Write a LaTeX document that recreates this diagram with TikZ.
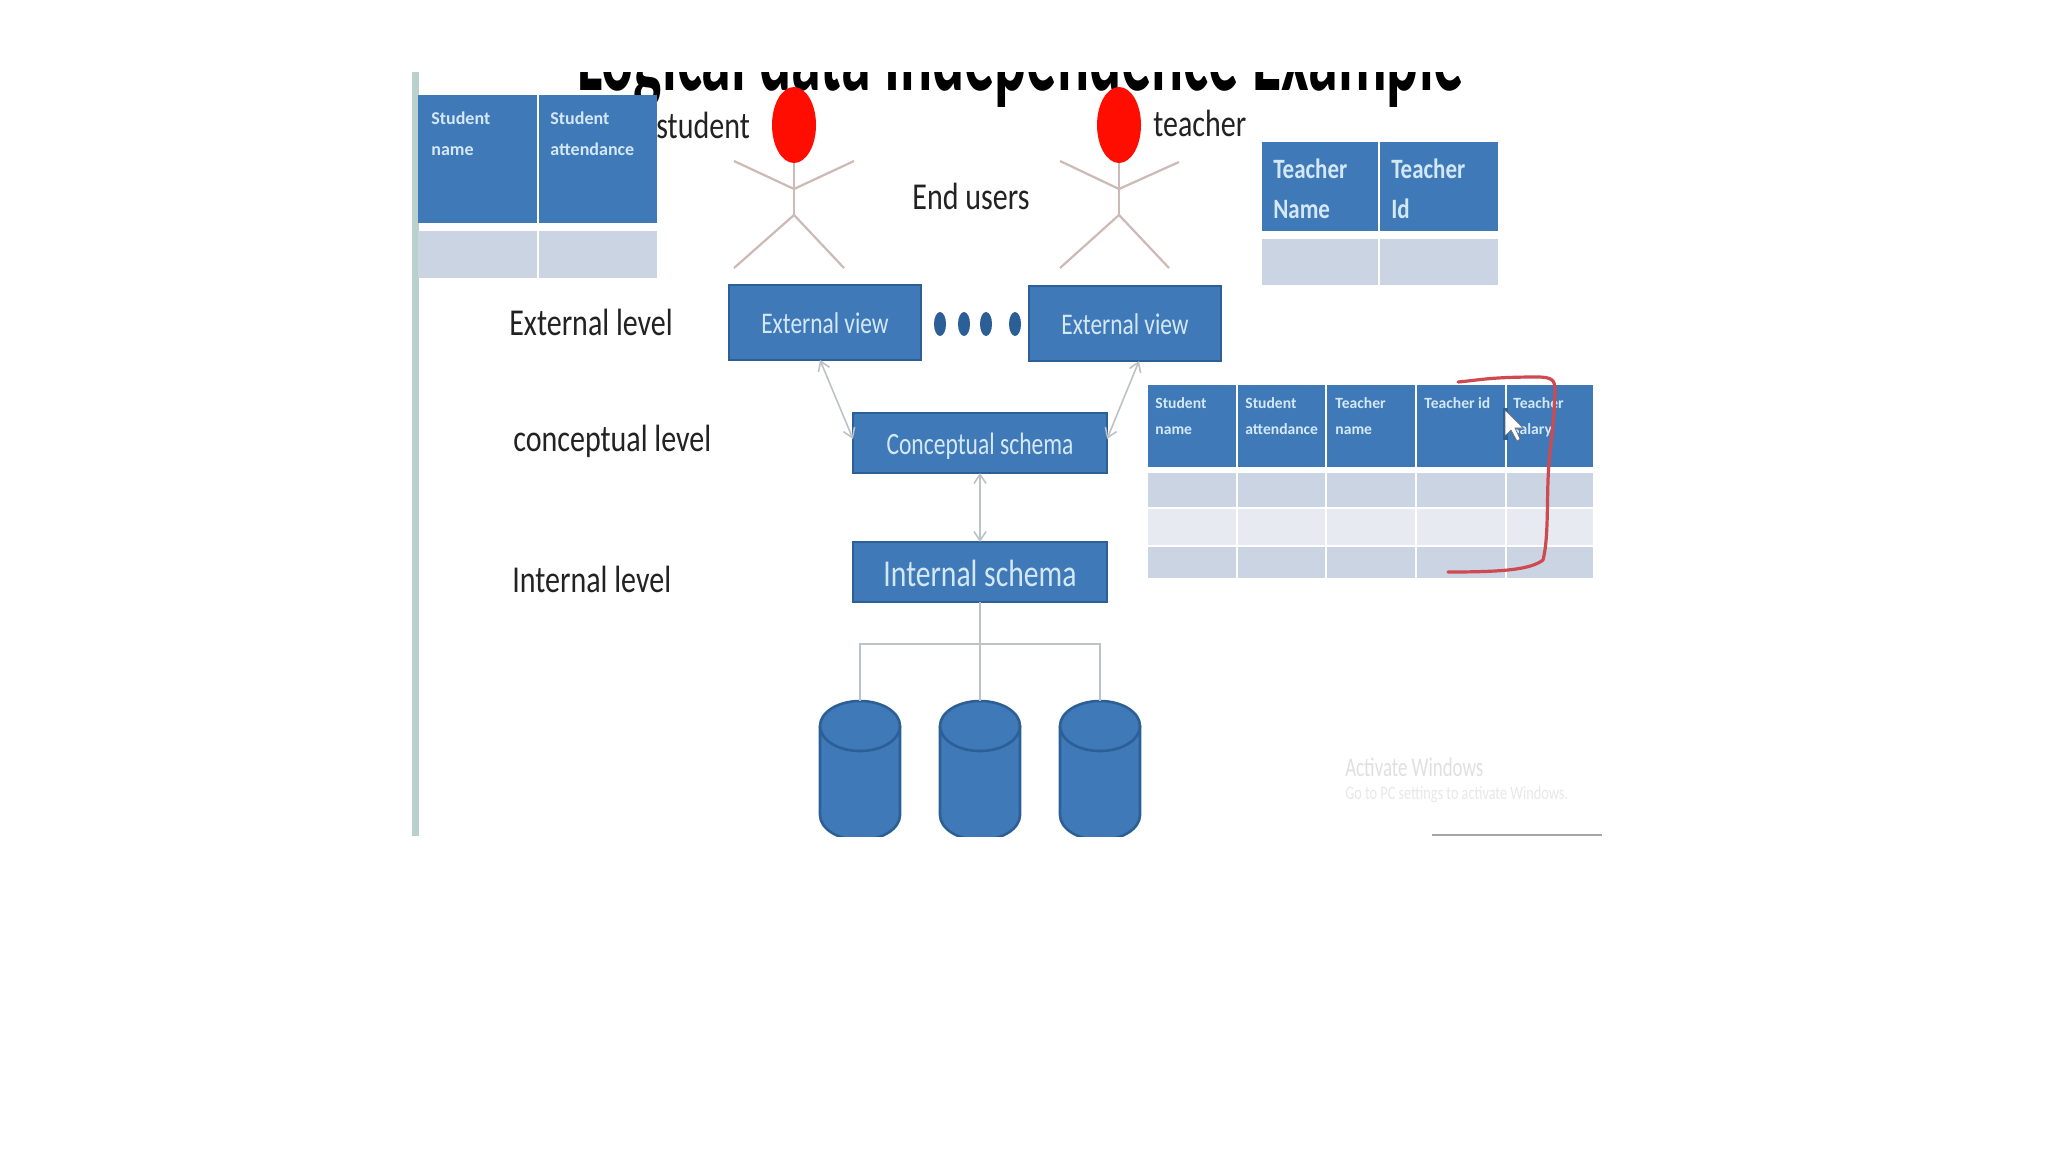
\documentclass[tikz,border=0pt]{standalone}
\usepackage{fontspec}
\setmainfont{Carlito}
\usetikzlibrary{arrows.meta,shapes.geometric}
\definecolor{boxblue}{HTML}{4079B8}
\definecolor{boxedge}{HTML}{2B5F96}
\definecolor{hdrtext}{HTML}{D3E8F6}
\definecolor{rowdark}{HTML}{CBD4E2}
\definecolor{rowlight}{HTML}{E7EAF1}
\definecolor{stick}{HTML}{CDB9B5}
\definecolor{conn}{HTML}{BCC2C6}
\definecolor{inkred}{HTML}{CF4A50}
\definecolor{txt}{HTML}{222222}
\definecolor{slideedge}{HTML}{BAD0CC}
\newcommand{\fsz}[2]{\fontsize{#1}{#2}\selectfont}
% name, x1, y1, x2, y2, style
\newcommand{\mycell}[6]{\node[#6,minimum width={(#4-#2)*0.5pt},minimum height={(#5-#3)*0.5pt}] (#1) at ({(#2+#4)/2},{(#3+#5)/2}) {};}
% name, x, y (top left), size, line distance, text
\newcommand{\hdrtxt}[6]{\node[hdrlabel,font=\bfseries\fsz{#4}{#5}] (#1) at (#2,#3) {#6};}
% name, centre x: a database cylinder, cut by the slide's lower edge
\newcommand{\dbcyl}[2]{%
  \coordinate (#1) at (#2,701);
  \filldraw[draw=boxedge,line width=1.3pt,fill=boxblue] (#2-40,726) arc[start angle=180,end angle=0,x radius=20pt,y radius=12.5pt] -- (#2+40,815) arc[start angle=0,end angle=-180,x radius=20pt,y radius=12.5pt] -- cycle;
  \draw[boxedge,line width=1.3pt] (#2-40,726) arc[start angle=180,end angle=360,x radius=20pt,y radius=12.5pt];
}
\tikzset{
  hcell/.style={rectangle,fill=boxblue,inner sep=0,outer sep=0},
  dcell/.style={rectangle,fill=rowdark,inner sep=0,outer sep=0},
  lcell/.style={rectangle,fill=rowlight,inner sep=0,outer sep=0},
  hdrlabel/.style={anchor=north west,align=left,inner sep=0,text=hdrtext},
  blueb/.style={rectangle,draw=boxedge,line width=1.2pt,fill=boxblue,text=hdrtext,inner sep=0,outer sep=0,text depth=0pt},
  levlabel/.style={anchor=west,inner sep=0,text=txt,xscale=.79,font=\fsz{19}{20}},
  stickline/.style={draw=stick,line width=1.1pt},
  head/.style={ellipse,fill=red!90!orange,inner sep=0,outer sep=0,minimum width=22pt,minimum height=38pt},
  dot/.style={ellipse,fill=boxedge,inner sep=0,minimum width=6pt,minimum height=12pt},
  dbl/.style={draw=conn,line width=.8pt,{Straight Barb[length=4.5pt,width=6pt]}-{Straight Barb[length=4.5pt,width=6pt]}},
  link/.style={draw=conn,line width=.9pt}
}
\begin{document}
\begin{tikzpicture}[x=0.5pt,y=-0.5pt]
\useasboundingbox (0,0) rectangle (2048,1152);
\fill[white] (0,0) rectangle (2048,1152);
\begin{scope}
\clip (412,72) rectangle (1610,836);
% title, only its lower part shows
\node[anchor=base west,inner sep=0,xscale=.555,font=\bfseries\fsz{54}{58}] (title) at (577,90) {Logical data Independence Example};
% slide edge
\fill[slideedge] (412,72) rectangle (419,836);
% student table
\mycell{sa}{418}{95}{537}{223}{hcell}
\mycell{sb}{539}{95}{657}{223}{hcell}
\mycell{sc}{418}{231}{537}{278}{dcell}
\mycell{sd}{539}{231}{657}{278}{dcell}
\hdrtxt{sat}{431}{111}{9}{15.5}{Student\\name}
\hdrtxt{sbt}{550}{111}{9}{15.5}{Student\\attendance}
% teacher table
\mycell{ta}{1262}{142}{1378}{231}{hcell}
\mycell{tb}{1380}{142}{1498}{231}{hcell}
\mycell{tc}{1262}{239}{1378}{285}{dcell}
\mycell{td}{1380}{239}{1498}{285}{dcell}
\node[hdrlabel,xscale=.82,font=\bfseries\fsz{14}{20}] (tat) at (1273,158) {Teacher\\Name};
\node[hdrlabel,xscale=.82,font=\bfseries\fsz{14}{20}] (tbt) at (1391,158) {Teacher\\Id};
% combined table
\foreach \n/\a/\b in {1/1148/1236,2/1238/1325,3/1327/1415,4/1417/1505,5/1507/1593}{
  \mycell{h\n}{\a}{385}{\b}{467}{hcell}
  \mycell{r\n}{\a}{473}{\b}{507}{dcell}
  \mycell{m\n}{\a}{509}{\b}{545}{lcell}
  \mycell{b\n}{\a}{547}{\b}{578}{dcell}
}
\hdrtxt{h1t}{1155}{397}{7.8}{13}{Student\\name}
\hdrtxt{h2t}{1245}{397}{7.8}{13}{Student\\attendance}
\hdrtxt{h3t}{1335}{397}{7.8}{13}{Teacher\\name}
\hdrtxt{h4t}{1424}{397}{7.8}{13}{Teacher id}
\hdrtxt{h5t}{1513}{397}{7.8}{13}{Teacher\\salary}
% stick figures
\node[head] (heads) at (794,125) {};
\node[head] (headt) at (1119,125) {};
\coordinate (necks) at (794,189); \coordinate (hips) at (794,215);
\coordinate (neckt) at (1119,189); \coordinate (hipt) at (1119,215);
\draw[stickline] (heads.south) -- (hips);
\draw[stickline] (734,161) -- (necks) -- (854,161);
\draw[stickline] (734,268) -- (hips) -- (844,268);
\draw[stickline] (headt.south) -- (hipt);
\draw[stickline] (1060,161) -- (neckt) -- (1179,162);
\draw[stickline] (1060,268) -- (hipt) -- (1169,268);
% labels
\node[levlabel] (lstudent) at (656,125) {student};
\node[levlabel] (lteacher) at (1153,123) {teacher};
\node[levlabel,anchor=center] (lusers) at (971,196) {End users};
\node[levlabel] (lext) at (509,322) {External level};
\node[levlabel] (lcon) at (513,441) {conceptual level};
\node[levlabel] (lint) at (512,579) {Internal level};
% boxes
\node[blueb,minimum width=96pt,minimum height=37.5pt,font=\fsz{15}{18}] (ev1) at (825,322.5) {\raisebox{-1pt}{\scalebox{.78}[1]{External view}}};
\node[blueb,minimum width=96pt,minimum height=37.5pt,font=\fsz{15}{18}] (ev2) at (1125,323.5) {\raisebox{-.6pt}{\scalebox{.78}[1]{External view}}};
\node[blueb,minimum width=127pt,minimum height=30pt,font=\fsz{15.5}{18}] (cs) at (980,443) {\raisebox{-.6pt}{\scalebox{.76}[1]{Conceptual schema}}};
\node[blueb,minimum width=127pt,minimum height=30pt,font=\fsz{19}{20}] (is) at (980,572) {\raisebox{-1pt}{\scalebox{.78}[1]{Internal schema}}};
\node[dot] (d1) at (940,324) {};
\node[dot] (d2) at (964,324) {};
\node[dot] (d3) at (986,324) {};
\node[dot] (d4) at (1015,324) {};
% connectors
\draw[dbl] (ev1.south -| 820,360) -- (cs.west |- 852,439);
\draw[dbl] (ev2.south -| 1139,361) -- (cs.east |- 1107,439);
\draw[dbl] (cs) -- (is);
% databases
\dbcyl{c1}{860}
\dbcyl{c2}{980}
\dbcyl{c3}{1100}
\coordinate (bus) at (980,644);
\draw[link] (is) -- (c2);
\draw[link] (c1) |- (bus) -| (c3);
% watermark
\node[anchor=west,inner sep=0,text=black!12,xscale=.7,font=\fsz{13.5}{16}] (wm1) at (1345,767) {Activate Windows};
\node[anchor=west,inner sep=0,text=black!9,xscale=.75,font=\fsz{9.5}{12}] (wm2) at (1345,795) {Go to PC settings to activate Windows.};
\draw[black!35,line width=.8pt] (1432,835) -- (1602,835);
% red annotation
\draw[inkred,line width=1.6pt,line cap=round,line join=round]
  (1458,382) .. controls (1480,380) and (1490,377) .. (1537,377)
  .. controls (1552,377) and (1555,380) .. (1555,390)
  .. controls (1554,430) and (1549,450) .. (1548,480)
  .. controls (1547,510) and (1548,540) .. (1543,560)
  .. controls (1530,570) and (1500,572) .. (1448,572);
% pointer
\fill[boxedge] (1503,408) rectangle (1508,440);
\filldraw[fill=white,draw=black!60,line width=.3pt] (1505,410) -- (1505,436) -- (1511,430) -- (1517,441) -- (1520,439) -- (1515,428) -- (1523,428) -- cycle;
\end{scope}
\end{tikzpicture}
\end{document}
